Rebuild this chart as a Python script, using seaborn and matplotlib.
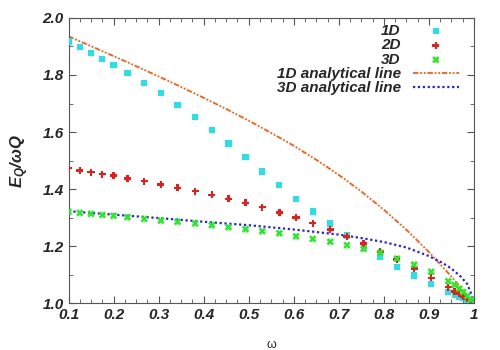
"""E_Q / (omega Q) versus omega for 1D, 2D and 3D cases."""

import numpy as np
import pandas as pd
import matplotlib
matplotlib.use("Agg")
import matplotlib.pyplot as plt
from matplotlib.ticker import MultipleLocator
import seaborn as sns

# numerical points
omega = [0.100, 0.125, 0.150, 0.175, 0.200, 0.231, 0.268, 0.305, 0.342, 0.381,
         0.418, 0.455, 0.493, 0.530, 0.568, 0.605, 0.642, 0.681, 0.718, 0.755,
         0.792, 0.829, 0.867, 0.905, 0.943, 0.957, 0.967, 0.976, 0.985, 0.993]
e_1d = [1.917, 1.899, 1.878, 1.857, 1.835, 1.808, 1.773, 1.736, 1.696, 1.654,
        1.608, 1.560, 1.512, 1.462, 1.415, 1.367, 1.322, 1.280, 1.238, 1.200,
        1.163, 1.129, 1.098, 1.067, 1.040, 1.030, 1.024, 1.019, 1.014, 1.007]
e_2d = [1.474, 1.465, 1.460, 1.453, 1.448, 1.438, 1.428, 1.416, 1.405, 1.393,
        1.380, 1.366, 1.352, 1.337, 1.319, 1.301, 1.281, 1.259, 1.235, 1.210,
        1.182, 1.154, 1.122, 1.090, 1.057, 1.042, 1.034, 1.024, 1.016, 1.008]
e_3d = [1.321, 1.317, 1.314, 1.310, 1.307, 1.302, 1.296, 1.290, 1.286, 1.280,
        1.274, 1.267, 1.260, 1.253, 1.246, 1.235, 1.226, 1.216, 1.204, 1.191,
        1.178, 1.157, 1.136, 1.111, 1.078, 1.065, 1.052, 1.040, 1.026, 1.013]

# analytical curves
omega_1d_line = [0.10, 0.15, 0.20, 0.25, 0.30, 0.35, 0.40, 0.45, 0.50, 0.55,
                 0.60, 0.65, 0.70, 0.75, 0.80, 0.85, 0.90, 0.95, 0.98, 1.00]
e_1d_line = [1.935, 1.901, 1.866, 1.831, 1.795, 1.758, 1.720, 1.681, 1.640, 1.597,
             1.552, 1.503, 1.450, 1.392, 1.328, 1.258, 1.180, 1.094, 1.038, 1.000]
omega_3d_line = [0.10, 0.20, 0.30, 0.40, 0.50, 0.60, 0.70, 0.75, 0.80, 0.85,
                 0.90, 0.93, 0.95, 0.97, 0.985, 0.995, 1.00]
e_3d_line = [1.323, 1.311, 1.299, 1.286, 1.274, 1.259, 1.241, 1.229, 1.215, 1.196,
             1.166, 1.142, 1.122, 1.095, 1.068, 1.030, 1.000]

pts = pd.DataFrame({"omega": omega, "1D": e_1d, "2D": e_2d, "3D": e_3d})

sns.set_style("ticks")
plt.rcParams["font.family"] = ["Liberation Sans", "DejaVu Sans"]
plt.rcParams["mathtext.fontset"] = "custom"
plt.rcParams["mathtext.it"] = "Liberation Sans:bold:italic"
plt.rcParams["mathtext.rm"] = "Liberation Sans:bold:italic"

fig = plt.figure(figsize=(5, 3.5), dpi=100)
ax = fig.add_axes([0.137, 0.133, 0.811, 0.816])

sns.scatterplot(data=pts, x="omega", y="1D", marker="s", s=20, color="#22e2ee",
                edgecolor="none", label="1D", ax=ax, zorder=3)
sns.scatterplot(data=pts, x="omega", y="2D", marker="P", s=26, color="#f01818",
                edgecolor="none", label="2D", ax=ax, zorder=3)
sns.scatterplot(data=pts, x="omega", y="3D", marker="X", s=28, color="#22ee22",
                edgecolor="none", label="3D", ax=ax, zorder=3)
sns.lineplot(x=omega_1d_line, y=e_1d_line, color="#ff5a10", lw=1.3,
             linestyle=(0, (3, 1, 1, 1, 1, 1)), label="1D analytical line", ax=ax)
sns.lineplot(x=omega_3d_line, y=e_3d_line, color="#2020f0", lw=1.6,
             linestyle=(0, (1, 1.2)), label="3D analytical line", ax=ax)

ax.set_xlim(0.1, 1.0)
ax.set_ylim(1.0, 2.0)
ax.xaxis.set_minor_locator(MultipleLocator(0.025))
ax.yaxis.set_major_locator(MultipleLocator(0.2))
ax.yaxis.set_minor_locator(MultipleLocator(0.1))
ax.set_xticks(np.arange(0.1, 1.01, 0.1))
ax.set_xticklabels(["0.1", "0.2", "0.3", "0.4", "0.5", "0.6", "0.7", "0.8", "0.9", "1"])
ax.tick_params(which="both", direction="in", top=True, right=True, color="#555555")
ax.tick_params(which="major", length=5)
ax.tick_params(which="minor", length=3)
for lab in ax.get_xticklabels() + ax.get_yticklabels():
    lab.set_fontweight("bold")
    lab.set_fontstyle("italic")
    lab.set_fontsize(11)
for sp in ax.spines.values():
    sp.set_color("#555555")

ax.set_xlabel("ω", fontsize=9, labelpad=12)
ax.set_ylabel(r"$E_Q/\omega Q$", fontsize=12, labelpad=8)

leg = ax.legend(loc="upper right", bbox_to_anchor=(0.985, 1.01), markerfirst=False,
                frameon=False, handlelength=3.0, handletextpad=0.8,
                labelspacing=0.02, borderaxespad=0.2,
                prop={"weight": "bold", "style": "italic", "size": 11})

fig.savefig("out.png", dpi=100)
